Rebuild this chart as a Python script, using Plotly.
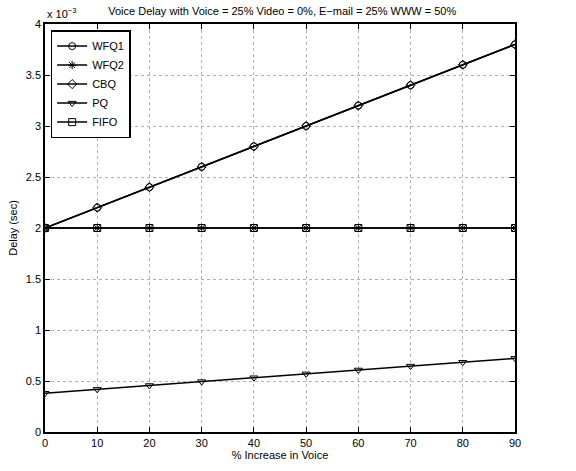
import plotly.graph_objects as go

x_vals = [0, 10, 20, 30, 40, 50, 60, 70, 80, 90]
# Delay values in units of 1e-3 sec
wfq1 = [2.0, 2.2, 2.4, 2.6, 2.8, 3.0, 3.2, 3.4, 3.6, 3.8]
wfq2 = [2.0, 2.0, 2.0, 2.0, 2.0, 2.0, 2.0, 2.0, 2.0, 2.0]
cbq = [2.0, 2.2, 2.4, 2.6, 2.8, 3.0, 3.2, 3.4, 3.6, 3.8]
pq = [0.38, 0.418, 0.456, 0.494, 0.532, 0.57, 0.608, 0.646, 0.684, 0.722]
fifo = [2.0, 2.0, 2.0, 2.0, 2.0, 2.0, 2.0, 2.0, 2.0, 2.0]

series = [
    ("WFQ1", wfq1, "circle-open"),
    ("WFQ2", wfq2, "asterisk-open"),
    ("CBQ", cbq, "diamond-open"),
    ("PQ", pq, "triangle-down-open"),
    ("FIFO", fifo, "square-open"),
]

fig = go.Figure()
for name, ys, sym in series:
    fig.add_trace(go.Scatter(
        x=x_vals, y=ys, name=name, mode="lines+markers",
        line=dict(color="black", width=1.5),
        marker=dict(symbol=sym, size=7, color="black", line=dict(color="black", width=1)),
    ))

font = "Liberation Sans, Arial, Helvetica, sans-serif"
axis_common = dict(
    showline=True, linecolor="black", linewidth=1.5, mirror="allticks",
    ticks="inside", ticklen=5, tickcolor="black", tickwidth=1,
    showgrid=True, gridcolor="#b0b0b0", griddash="dot", gridwidth=1,
    zeroline=False, tickfont=dict(size=11, color="black", family=font),
)
fig.update_xaxes(range=[0, 90], tickvals=x_vals, title=dict(text="% Increase in Voice", font=dict(size=11, family=font, color="black"), standoff=2), **axis_common)
fig.update_yaxes(range=[0, 4], tickvals=[0, 0.5, 1, 1.5, 2, 2.5, 3, 3.5, 4], ticktext=["0", "0.5", "1", "1.5", "2", "2.5", "3", "3.5", "4"],
                 title=dict(text="Delay (sec)", font=dict(size=11, family=font, color="black"), standoff=6), **axis_common)

fig.update_layout(
    width=576, height=471,
    margin=dict(l=44, r=61, t=24, b=33),
    paper_bgcolor="white", plot_bgcolor="white",
    font=dict(family=font, size=11, color="black"),
    title=dict(text="Voice Delay with Voice = 25% Video = 0%, E\u2212mail = 25% WWW = 50%",
               x=0.49, xanchor="center", y=0.985, yanchor="top", font=dict(size=11, family=font, color="black")),
    legend=dict(x=0.012, y=0.985, xanchor="left", yanchor="top", bordercolor="black", borderwidth=1.5,
                bgcolor="white", font=dict(size=11, family=font, color="black"), tracegroupgap=0,
                itemwidth=30),
    showlegend=True,
    annotations=[dict(text="x 10<sup>\u22123</sup>", x=0, y=1.0, xref="paper", yref="paper",
                      xanchor="left", yanchor="bottom", showarrow=False, yshift=2,
                      font=dict(size=11, family=font, color="black"))],
)

fig.write_html("out.html")
